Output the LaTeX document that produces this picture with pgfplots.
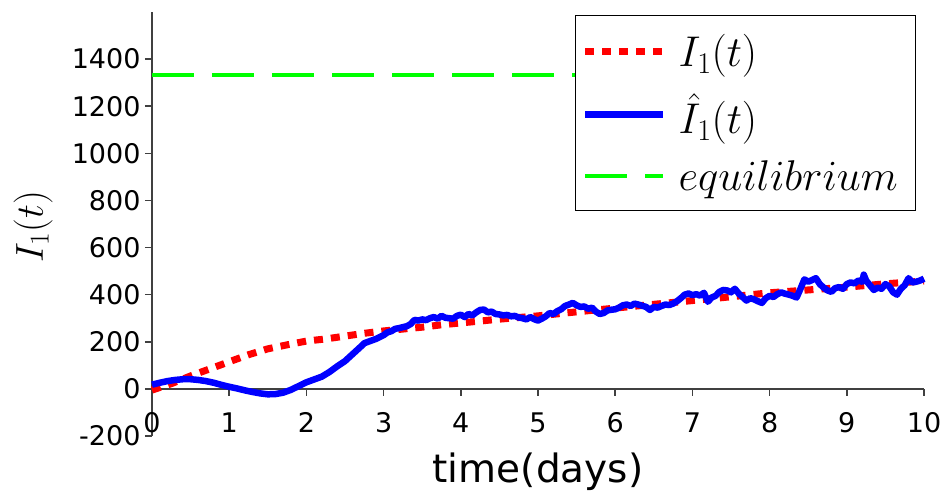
\RequirePackage{fix-cm}
\documentclass[border=0pt]{standalone}
\usepackage{fontspec}
\setmainfont{DejaVu Sans}
\usepackage{pgfplots}
\pgfplotsset{compat=1.18}
\definecolor{axgray}{HTML}{404040}
\begin{document}
\begin{tikzpicture}
\begin{axis}[
  scale only axis,
  width=772pt, height=424pt,
  xmin=0, xmax=10, ymin=-200, ymax=1600,
  axis x line=middle, axis y line=left,
  axis line style={-, draw=axgray, line width=1.5pt},
  hide obscured x ticks=false, hide obscured y ticks=false,
  xtick={0,1,...,10},
  ytick={-200,0,200,400,600,800,1000,1200,1400},
  tick align=outside,
  major tick length=7pt,
  tick style={draw=axgray, line width=1.5pt},
  /pgf/number format/assume math mode=true,
  /pgf/number format/1000 sep={},
  ticklabel style={font=\fontsize{27}{31}\selectfont},
  xticklabel style={anchor=north, yshift=-13pt},
  yticklabel style={anchor=east, xshift=-1pt},
  xlabel={time(days)},
  ylabel={$I_1(t)$},
  xlabel style={at={(axis description cs:0.5,-0.1085)}, anchor=base, font=\fontsize{39}{44}\selectfont},
  ylabel style={at={(axis description cs:-0.154,0.494)}, anchor=center, rotate=0, font=\fontsize{39}{44}\selectfont},
  legend style={at={(axis description cs:0.99,0.993)}, anchor=north east,
    draw=black, line width=1pt, fill=white,
    font=\fontsize{43}{48}\selectfont,
    row sep=21pt, inner xsep=6pt, inner ysep=17pt,
    nodes={inner xsep=12pt}},
  legend cell align=left,
  legend image code/.code={\draw[#1] (0pt,0pt) -- (78pt,0pt);},
  clip=false,
]
\addplot[draw={rgb,1:red,0;green,1;blue,0}, line width=3.5pt, dash pattern=on 42pt off 18pt, forget plot] coordinates {(0,1333) (10,1333)};
\addplot[red, line width=7pt, dash pattern=on 9pt off 8pt] coordinates {
(0,-5) (0.25,22) (0.5,55) (0.75,85) (1.0,115) (1.25,145) (1.5,170) (1.75,187)
(2.0,203) (2.25,212) (2.5,224) (2.75,236) (3.0,246) (3.25,254) (3.5,262)
(3.75,272) (4.0,280) (4.5,296) (5.0,310) (5.5,327) (6.0,343) (6.5,359)
(7.0,375) (7.5,391) (8.0,408) (8.5,420) (9.0,432) (9.5,446) (10.0,458)};
\addlegendentry{$I_1(t)$}
\addplot[blue, line width=6.5pt, line join=round] coordinates {
(0,18) (0.1,26) (0.2,33) (0.3,38) (0.4,41) (0.5,41) (0.6,38) (0.7,33) (0.8,26) (0.9,17)
(1.0,9) (1.1,2) (1.2,-6) (1.3,-13) (1.4,-19) (1.5,-23) (1.6,-22) (1.7,-16) (1.8,-4) (1.9,12)
(2.0,28) (2.1,40) (2.2,52) (2.3,72) (2.4,96) (2.5,118) (2.6,148) (2.7,178) (2.75,194) (2.8,200)
(2.9,212) (3.0,228) (3.05,240) (3.1,245) (3.15,255) (3.2,258) (3.25,262) (3.3,266) (3.35,275)
(3.4,293) (3.45,290) (3.5,295) (3.55,292) (3.6,300) (3.65,305) (3.7,298) (3.75,310) (3.8,302)
(3.85,300) (3.9,298) (3.95,310) (4.0,315) (4.05,305) (4.1,318) (4.15,312) (4.2,325) (4.25,335)
(4.3,337) (4.35,325) (4.4,328) (4.45,318) (4.5,316) (4.55,312) (4.6,314) (4.65,308) (4.7,310)
(4.75,303) (4.8,300) (4.85,295) (4.9,305) (4.95,296) (5.0,290) (5.05,298) (5.1,308) (5.15,322)
(5.2,318) (5.25,330) (5.3,338) (5.35,352) (5.4,358) (5.45,365) (5.5,355) (5.55,348) (5.6,350)
(5.65,340) (5.7,345) (5.75,328) (5.8,318) (5.85,322) (5.9,333) (5.95,336) (6.0,338) (6.05,345)
(6.1,355) (6.15,358) (6.2,352) (6.25,362) (6.3,358) (6.35,353) (6.4,348) (6.45,335) (6.5,348)
(6.55,345) (6.6,352) (6.65,358) (6.7,356) (6.75,362) (6.8,372) (6.85,385) (6.9,400) (6.95,405)
(7.0,398) (7.05,402) (7.1,396) (7.15,408) (7.2,370) (7.25,388) (7.3,395) (7.35,412) (7.4,420)
(7.45,418) (7.5,410) (7.55,425) (7.6,405) (7.65,390) (7.7,375) (7.75,385) (7.8,380) (7.85,372)
(7.9,365) (7.95,385) (8.0,395) (8.05,390) (8.1,402) (8.15,410) (8.2,404) (8.25,400) (8.3,395)
(8.35,388) (8.4,425) (8.45,465) (8.5,455) (8.55,462) (8.6,470) (8.65,445) (8.7,430) (8.75,418)
(8.8,412) (8.85,428) (8.9,432) (8.95,425) (9.0,445) (9.05,452) (9.1,448) (9.15,460) (9.2,455)
(9.22,485) (9.25,460) (9.3,440) (9.35,420) (9.4,430) (9.45,425) (9.5,445) (9.55,435) (9.6,410)
(9.65,400) (9.7,425) (9.75,440) (9.8,470) (9.85,452) (9.9,455) (9.95,460) (10.0,468)};
\addlegendentry{$\hat{I}_1(t)$}
\addlegendimage{draw={rgb,1:red,0;green,1;blue,0}, line width=3.5pt, dash pattern=on 42pt off 18pt}
\addlegendentry{$equilibrium$}
\coordinate (O) at (rel axis cs:0,0);
\end{axis}
\pgfresetboundingbox
\path (O) ++(-152pt,-57pt) rectangle ++(942pt,493pt);
\end{tikzpicture}
\end{document}
